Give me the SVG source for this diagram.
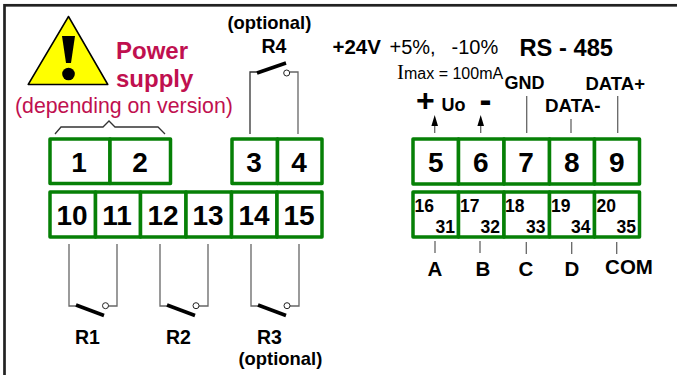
<svg xmlns="http://www.w3.org/2000/svg" width="677" height="375" viewBox="0 0 677 375">
<style>
text{font-family:"Liberation Sans",Arial,sans-serif;fill:#000}
.b{font-weight:700}
.n{font-weight:700;font-size:28px;text-anchor:middle}
.s{font-weight:700;font-size:17.500px}
.l{font-weight:700;font-size:20.500px;text-anchor:middle}
.rl{font-weight:700;font-size:19.500px}
.op{font-weight:700;font-size:18.400px}
.d{font-weight:700;font-size:18px}
.t{fill:#fff;stroke:#068006;stroke-width:3.500;stroke-linejoin:round}
.w{fill:none;stroke:#666;stroke-width:1.300}
.k{fill:none;stroke:#333;stroke-width:1.300}
.bar{stroke:#000;stroke-width:3.500}
.o{fill:#fff;stroke:#222;stroke-width:1}
.r{font-weight:700;font-size:24px}
.r,.r2{fill:#c0104f}
</style>
<rect x="4.500" y="5.300" width="690" height="390" fill="#fff" stroke="#222" stroke-width="2.700"/>
<g id="warning">
<path d="M68.500 16.500L107.800 84.500H28.200Z" fill="#ffff00" stroke="#000" stroke-width="1.500" stroke-linejoin="round"/>
<path d="M62 36H75L71 63H66Z" fill="#000"/>
<circle cx="68.500" cy="74" r="6.300" fill="#000"/>
</g>
<g id="power-label">
<text class="r" x="116" y="59">Power</text>
<text class="r" x="116" y="87">supply</text>
<text class="r2" x="15" y="113" font-size="21.300">(depending on version)</text>
<path class="k" d="M55 134L61 127H103L109 121L115 127H158L165 134"/>
</g>
<g id="connectors">
<path class="k" d="M250 134V72H258"/>
<path class="w" d="M298 134V72H290"/>
<path class="w" d="M69 244V306H76M117 244V306H108"/>
<path class="w" d="M160 244V306H167M208 244V306H199"/>
<path class="w" d="M251 244V306H258M299 244V306H290"/>
<path class="w" d="M434.700 133V120M480.700 133V120M526.700 133V96M571 133V119M617.700 133V96"/>
<path class="w" d="M435 241V253M480 241V253M526.300 242V254M571.700 242V254M616.700 242V254"/>
<path d="M434.700 115L438 126H431.400Z M480.700 115L484 126H477.400Z" fill="#000"/>
</g>
<g id="R4"><path class="bar" d="M257 73L286 63"/><circle class="o" cx="286.700" cy="73" r="3"/><text class="rl" x="261.500" y="53">R4</text><text class="op" x="227.500" y="29">(optional)</text></g>
<g id="R1"><path class="bar" d="M76 305L104 315.500"/><circle class="o" cx="105.500" cy="305.700" r="3"/><text class="rl" x="75" y="344">R1</text></g>
<g id="R2"><path class="bar" d="M167 305L195 315.500"/><circle class="o" cx="196" cy="305.700" r="3"/><text class="rl" x="166" y="344">R2</text></g>
<g id="R3"><path class="bar" d="M258 305L286 315.500"/><circle class="o" cx="287" cy="305.700" r="3"/><text class="rl" x="257" y="344">R3</text><text class="op" x="238.500" y="364.800">(optional)</text></g>
<g id="t1"><rect class="t" x="50" y="139" width="60" height="44.500"/><text class="n" x="79" y="172">1</text></g>
<g id="t2"><rect class="t" x="110" y="139" width="60.500" height="44.500"/><text class="n" x="140" y="172">2</text></g>
<g id="t3"><rect class="t" x="232" y="139" width="45.500" height="44.500"/><text class="n" x="254" y="172">3</text></g>
<g id="t4"><rect class="t" x="277.500" y="139" width="44.500" height="44.500"/><text class="n" x="299" y="172">4</text></g>
<g id="t10"><rect class="t" x="50" y="192" width="45.500" height="45"/><text class="n" x="72" y="225">10</text></g>
<g id="t11"><rect class="t" x="95.500" y="192" width="45" height="45"/><text class="n" x="117" y="225">11</text></g>
<g id="t12"><rect class="t" x="140.500" y="192" width="45.500" height="45"/><text class="n" x="163" y="225">12</text></g>
<g id="t13"><rect class="t" x="186" y="192" width="45.500" height="45"/><text class="n" x="208" y="225">13</text></g>
<g id="t14"><rect class="t" x="231.500" y="192" width="45.500" height="45"/><text class="n" x="254" y="225">14</text></g>
<g id="t15"><rect class="t" x="277" y="192" width="45" height="45"/><text class="n" x="299" y="225">15</text></g>
<g id="t5"><rect class="t" x="413" y="139" width="45.500" height="45"/><text class="n" x="435.700" y="172">5</text></g>
<g id="t6"><rect class="t" x="458.500" y="139" width="45.500" height="45"/><text class="n" x="480.700" y="172">6</text></g>
<g id="t7"><rect class="t" x="504" y="139" width="45.500" height="45"/><text class="n" x="526" y="172">7</text></g>
<g id="t8"><rect class="t" x="549.500" y="139" width="45" height="45"/><text class="n" x="571.700" y="172">8</text></g>
<g id="t9"><rect class="t" x="594.500" y="139" width="45" height="45"/><text class="n" x="616.700" y="172">9</text></g>
<g id="t16"><rect class="t" x="413" y="192" width="45.500" height="45"/><text class="s" x="414.500" y="212">16</text><text class="s" x="435.500" y="233">31</text></g>
<g id="t17"><rect class="t" x="458.500" y="192" width="45.500" height="45"/><text class="s" x="460" y="212">17</text><text class="s" x="480.500" y="233">32</text></g>
<g id="t18"><rect class="t" x="504" y="192" width="45.500" height="45"/><text class="s" x="505" y="212">18</text><text class="s" x="526" y="233">33</text></g>
<g id="t19"><rect class="t" x="549.500" y="192" width="45" height="45"/><text class="s" x="551" y="212">19</text><text class="s" x="571" y="233">34</text></g>
<g id="t20"><rect class="t" x="594.500" y="192" width="45" height="45"/><text class="s" x="596.500" y="212">20</text><text class="s" x="616.500" y="233">35</text></g>
<g id="labels">
<text class="b" font-size="20.500" x="332.500" y="54">+24V</text>
<text font-size="20" x="389.500" y="54">+5%,</text>
<text font-size="20" x="451.500" y="54">-10%</text>
<text class="b" font-size="23.700" x="519.500" y="56">RS - 485</text>
<text font-size="21" x="397" y="79" style="font-family:'Liberation Serif',serif">I</text><text font-size="16" x="404" y="78.500">max = 100mA</text>
<text class="b" font-size="32" x="416" y="110.500">+</text>
<text class="d" x="441.500" y="110.500">Uo</text>
<text class="b" font-size="36" x="479.500" y="112">-</text>
<text class="d" x="504.500" y="89">GND</text>
<text class="d" style="font-size:18.500px" x="585.500" y="90">DATA+</text>
<text class="d" style="font-size:18.800px" x="545" y="112">DATA-</text>
<text class="l" x="435" y="275.500">A</text>
<text class="l" x="483" y="275.500">B</text>
<text class="l" x="526" y="275.500">C</text>
<text class="l" x="572" y="275.500">D</text>
<text class="l" x="629" y="274">COM</text>
</g>
</svg>
